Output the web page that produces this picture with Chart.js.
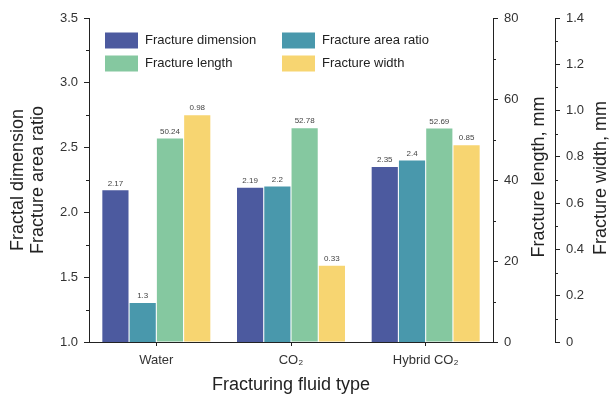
<!DOCTYPE html>
<html>
<head>
<meta charset="utf-8">
<script src="https://cdn.jsdelivr.net/npm/chart.js@4"></script>
<style>
  html, body { margin: 0; padding: 0; background: #fff; }
  #wrap { width: 612px; height: 397px; }
</style>
</head>
<body>
<div id="wrap"><canvas id="fluidChart" width="612" height="397"></canvas></div>
<script>
const categories = ["Water", "CO\u2082", "Hybrid CO\u2082"];
const fractureDimension = [2.17, 2.19, 2.35];
const fractureAreaRatio = [1.3, 2.2, 2.4];
const fractureLength = [50.24, 52.78, 52.69];
const fractureWidth = [0.98, 0.33, 0.85];

const seriesNames = ["Fracture dimension", "Fracture area ratio", "Fracture length", "Fracture width"];
const colors = ["#4c5a9f", "#4998ac", "#85c8a0", "#f7d571"];

const FONT = "'Liberation Sans', Arial, sans-serif";
const INK = "#222";
const TITLE_SIZE = 18;

// value labels above each bar
const barLabels = {
  id: "barLabels",
  afterDatasetsDraw(chart) {
    const ctx = chart.ctx;
    ctx.save();
    ctx.font = "8px " + FONT;
    ctx.fillStyle = "#444";
    ctx.textAlign = "center";
    ctx.textBaseline = "bottom";
    chart.data.datasets.forEach((ds, i) => {
      chart.getDatasetMeta(i).data.forEach((bar, j) => {
        ctx.fillText(String(ds.data[j]), bar.x, bar.y - 3);
      });
    });
    ctx.restore();
  },
};

// minor ticks, axis titles and the two-column legend
const decorations = {
  id: "decorations",
  afterDraw(chart) {
    const ctx = chart.ctx;
    ctx.save();
    ctx.strokeStyle = INK;
    ctx.lineWidth = 1;

    const minors = [
      ["y", [1.25, 1.75, 2.25, 2.75, 3.25], -1],
      ["y1", [10, 30, 50, 70], 1],
      ["y2", [0.1, 0.3, 0.5, 0.7, 0.9, 1.1, 1.3], 1],
    ];
    minors.forEach(([id, vals, dir]) => {
      const s = chart.scales[id];
      const x0 = id === "y" ? s.right : s.left;
      vals.forEach((v) => {
        const y = Math.round(s.getPixelForValue(v)) + 0.5;
        ctx.beginPath();
        ctx.moveTo(x0, y);
        ctx.lineTo(x0 + dir * 3, y);
        ctx.stroke();
      });
    });

    ctx.fillStyle = INK;
    ctx.textAlign = "center";
    ctx.textBaseline = "middle";
    const vtitle = (text, x, y) => {
      ctx.save();
      ctx.translate(x, y);
      ctx.rotate(-Math.PI / 2);
      ctx.font = TITLE_SIZE + "px " + FONT;
      ctx.fillText(text, 0, 0);
      ctx.restore();
    };
    vtitle("Fractal dimension", 18, 180);
    vtitle("Fracture area ratio", 38, 180);
    vtitle("Fracture length, mm", 539, 177);
    vtitle("Fracture width, mm", 601, 178);

    // legend
    ctx.font = "13px " + FONT;
    ctx.textAlign = "left";
    const cols = [105, 282];
    const rows = [40.5, 63.5];
    seriesNames.forEach((name, i) => {
      const x = cols[i % 2];
      const y = rows[Math.floor(i / 2)];
      ctx.fillStyle = colors[i];
      ctx.fillRect(x, y - 8, 33, 16);
      ctx.fillStyle = INK;
      ctx.fillText(name, x + 40, y);
    });
    ctx.restore();
  },
};

const axisBorder = { display: true, color: INK, width: 1 };
const tickFont = { family: FONT, size: 13 };

const yAxis = (position, min, max, step, fmt, width) => ({
  type: "linear",
  position: position,
  min: min,
  max: max,
  ticks: {
    stepSize: step,
    color: "#333",
    font: tickFont,
    padding: 6,
    callback: fmt,
  },
  grid: { drawOnChartArea: false, drawTicks: true, tickLength: 5, color: INK },
  border: axisBorder,
  afterFit(scale) { scale.width = width; },
});

new Chart(document.getElementById("fluidChart"), {
  type: "bar",
  data: {
    labels: categories,
    datasets: [
      { label: seriesNames[0], data: fractureDimension, backgroundColor: colors[0], yAxisID: "y" },
      { label: seriesNames[1], data: fractureAreaRatio, backgroundColor: colors[1], yAxisID: "y" },
      { label: seriesNames[2], data: fractureLength, backgroundColor: colors[2], yAxisID: "y1" },
      { label: seriesNames[3], data: fractureWidth, backgroundColor: colors[3], yAxisID: "y2" },
    ],
  },
  options: {
    responsive: false,
    animation: false,
    layout: { padding: { top: 18, left: 0, right: 0, bottom: 0 } },
    datasets: { bar: { categoryPercentage: 0.81, barPercentage: 0.96 } },
    plugins: { legend: { display: false }, tooltip: { enabled: false } },
    scales: {
      x: {
        ticks: { color: "#333", font: tickFont, padding: 7 },
        grid: { drawOnChartArea: false, drawTicks: true, tickLength: 4, color: INK, offset: false },
        border: axisBorder,
        title: {
          display: true,
          text: "Fracturing fluid type",
          color: INK,
          font: { family: FONT, size: TITLE_SIZE },
          padding: { top: 2, bottom: 1 },
        },
        afterFit(scale) { scale.height = 55; },
      },
      y: yAxis("left", 1, 3.5, 0.5, (v) => v.toFixed(1), 89),
      y1: yAxis("right", 0, 80, 20, (v) => String(v), 62),
      y2: yAxis("right", 0, 1.4, 0.2, (v) => (v === 0 ? "0" : v.toFixed(1)), 57),
    },
  },
  plugins: [barLabels, decorations],
});
</script>
</body>
</html>
